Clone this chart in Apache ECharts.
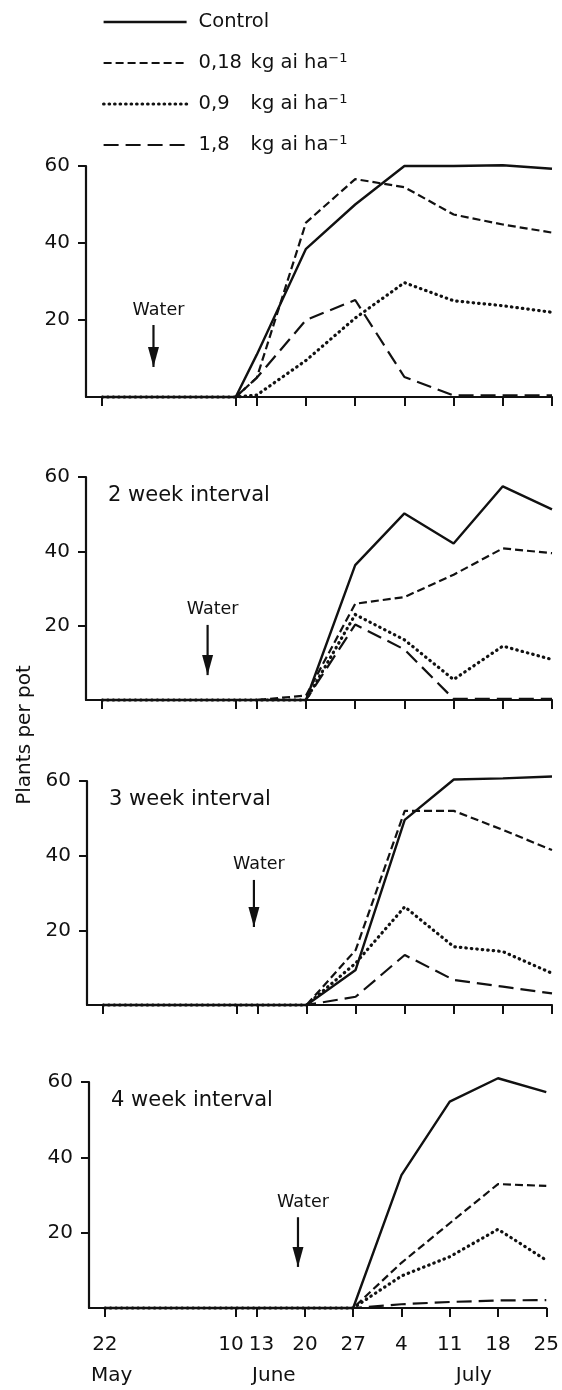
<!DOCTYPE html>
<html lang="en">
<head>
    <meta charset="UTF-8">
    <title>Plants per pot</title>
    <style>
        html, body { margin: 0; padding: 0; background: #fff; }
        #main { width: 562px; height: 1390px; }
    </style>
</head>
<body>
<div id="main"></div>
<script src="https://cdn.jsdelivr.net/npm/echarts@6/dist/echarts.min.js"></script>
<script>
    // days counted from 22 May
    var days = [0, 19, 22, 29, 36, 43, 50, 57, 64];
    var tickDays = [0, 19, 22, 29, 36, 43, 50, 57, 64];
    var tickLabels = ['22', '10', '13', '20', '27', '4', '11', '18', '25'];
    var monthDays = [1, 24.5, 53.5];
    var monthLabels = ['May', 'June', 'July'];

    var seriesNames = ['Control', '0,18', '0,9', '1,8'];
    var panelLabels = ['', '2 week interval', '3 week interval', '4 week interval'];

    // one row per panel (top to bottom)
    var control = [
        [0, 0, 11, 38.5, 50, 60, 60, 60.2, 59.3],
        [0, 0, 0, 0, 36.3, 50.2, 42.1, 57.5, 51.3],
        [0, 0, 0, 0, 9.4, 49.6, 60.4, 60.7, 61.2],
        [0, 0, 0, 0, 0, 35.3, 54.8, 61, 57.3]
    ];
    var dose018 = [
        [0, 0, 5, 45.3, 56.6, 54.5, 47.4, 44.8, 42.7],
        [0, 0, 0, 1.2, 25.9, 27.7, 33.7, 40.8, 39.5],
        [0, 0, 0, 0, 14.7, 52, 52, 46.9, 41.5],
        [0, 0, 0, 0, 0, 12, 22.5, 32.9, 32.4]
    ];
    var dose09 = [
        [0, 0, 0.5, 9.5, 20.5, 29.7, 25, 23.7, 22],
        [0, 0, 0, 0, 23, 16.2, 5.5, 14.5, 10.9],
        [0, 0, 0, 0, 11.2, 26.3, 15.6, 14.3, 8.5],
        [0, 0, 0, 0, 0, 8.5, 13.6, 20.9, 12.7]
    ];
    var dose18 = [
        [0, 0, 5, 20, 25.2, 5.2, 0.4, 0.4, 0.4],
        [0, 0, 0, 0, 20.3, 13.6, 0.3, 0.3, 0.3],
        [0, 0, 0, 0, 2.2, 13.4, 6.7, 4.9, 3.1],
        [0, 0, 0, 0, 0, 1, 1.6, 2, 2.1]
    ];

    // "Water" arrows: day, top of shaft, tip (plants per pot units)
    var waterDay = [7.3, 15, 21.5, 28];
    var waterTop = [18.7, 20.2, 33.5, 24.1];
    var waterTip = [7.8, 6.7, 20.9, 10.9];

    var font = 'DejaVu Sans';
    var ink = '#111';

    var grids = [
        {left: 86, right: 10, top: 166, height: 231},
        {left: 86, right: 10, top: 477, height: 223},
        {left: 87, right: 10, top: 781, height: 224},
        {left: 89, right: 9, top: 1082, height: 226}
    ];

    var lineStyles = [
        {color: ink, width: 2.4, type: 'solid'},
        {color: ink, width: 2.2, type: [8, 4]},
        {color: ink, width: 3.2, type: [0.5, 5], cap: 'round'},
        {color: ink, width: 2.2, type: [15, 7]}
    ];
    var allVals = [control, dose018, dose09, dose18];

    var xAxes = [], yAxes = [], series = [], titles = [];

    grids.forEach(function (g, p) {
        xAxes.push({
            gridIndex: p, type: 'value', min: -2.3, max: 64,
            axisLine: {onZero: false, lineStyle: {color: ink, width: 2.2}},
            axisTick: {show: true, customValues: tickDays, length: 9, lineStyle: {color: ink, width: 2}},
            axisLabel: {
                show: p === 3, customValues: tickDays, margin: 27,
                fontSize: 20, fontFamily: font, color: ink,
                formatter: function (v) {
                    var i = tickDays.indexOf(v);
                    if (i === 1) return '{l|' + tickLabels[i] + '}';
                    if (i === 2) return '{r|' + tickLabels[i] + '}';
                    return '{t|' + tickLabels[i] + '}';
                },
                rich: {
                    t: {fontSize: 20, fontFamily: font, color: ink},
                    l: {fontSize: 20, fontFamily: font, color: ink, padding: [0, 10, 0, 0]},
                    r: {fontSize: 20, fontFamily: font, color: ink, padding: [0, 0, 0, 10]}
                }
            },
            splitLine: {show: false}
        });
        yAxes.push({
            gridIndex: p, type: 'value', min: 0, max: 60, interval: 20,
            axisLine: {show: true, onZero: false, lineStyle: {color: ink, width: 2.2}},
            axisTick: {show: true, customValues: [20, 40, 60], length: 8, lineStyle: {color: ink, width: 2}},
            axisLabel: {showMinLabel: false, margin: 16, fontSize: 20, fontFamily: font, color: ink},
            splitLine: {show: false}
        });

        for (var s = 0; s < 4; s++) {
            var vals = allVals[s][p];
            series.push({
                name: seriesNames[s], type: 'line',
                xAxisIndex: p, yAxisIndex: p,
                symbol: 'none', silent: true, clip: false,
                color: ink,
                lineStyle: lineStyles[s],
                data: days.map(function (d, i) { return [d, vals[i]]; })
            });
        }

        series.push({
            type: 'line', xAxisIndex: p, yAxisIndex: p, silent: true,
            lineStyle: {color: ink, width: 2.2, type: 'solid'},
            itemStyle: {color: ink},
            data: [
                {
                    value: [waterDay[p], waterTop[p]], symbol: 'circle', symbolSize: 0.1,
                    label: {show: true, position: 'top', distance: 6, offset: [5, 0], formatter: 'Water',
                        fontSize: 17.5, fontFamily: font, color: ink}
                },
                {
                    value: [waterDay[p], waterTip[p]],
                    symbol: 'path://M0,0 L10,0 L5,20 Z', symbolSize: [11, 20], symbolOffset: [0, -10]
                }
            ]
        });

        if (panelLabels[p]) {
            titles.push({
                text: panelLabels[p], left: g.left + 22, top: g.top + 8, padding: 0,
                textStyle: {fontSize: 21, fontWeight: 'normal', fontFamily: font, color: ink}
            });
        }
    });

    // month names under the bottom panel
    xAxes.push({
        gridIndex: 3, type: 'value', min: -2.3, max: 64, position: 'bottom',
        axisLine: {show: false}, axisTick: {show: false}, splitLine: {show: false},
        axisLabel: {
            customValues: monthDays, margin: 58, fontSize: 20, fontFamily: font, color: ink,
            formatter: function (v) { return monthLabels[monthDays.indexOf(v)]; }
        }
    });

    var chart = echarts.init(document.getElementById('main'));
    chart.setOption({
        animation: false,
        backgroundColor: '#fff',
        title: titles,
        legend: {
            data: seriesNames, orient: 'vertical', left: 102, top: 11, padding: 0,
            itemWidth: 83, itemHeight: 14, itemGap: 19,
            itemStyle: {opacity: 0},
            lineStyle: {width: 'inherit', cap: 'inherit', type: 'inherit'},
            formatter: function (name) {
                if (name === 'Control') return '{c|Control}';
                return '{n|' + name + '}{u|kg ai ha}{s|\u22121}';
            },
            textStyle: {
                fontSize: 19.5, fontFamily: font, color: ink, lineHeight: 22, padding: [0, 0, 0, 7],
                rich: {
                    c: {fontSize: 19.5, fontFamily: font, color: ink, lineHeight: 22},
                    n: {width: 52, fontSize: 19.5, fontFamily: font, color: ink, lineHeight: 22},
                    u: {fontSize: 19.5, fontFamily: font, color: ink, lineHeight: 22},
                    s: {fontSize: 13, fontFamily: font, color: ink, verticalAlign: 'top', lineHeight: 14}
                }
            }
        },
        grid: grids,
        xAxis: xAxes,
        yAxis: yAxes,
        series: series,
        graphic: [{
            type: 'text', x: 25, y: 735, rotation: Math.PI / 2,
            style: {text: 'Plants per pot', font: '20px "DejaVu Sans"', fill: ink, align: 'center', verticalAlign: 'middle'}
        }]
    });
</script>
</body>
</html>
